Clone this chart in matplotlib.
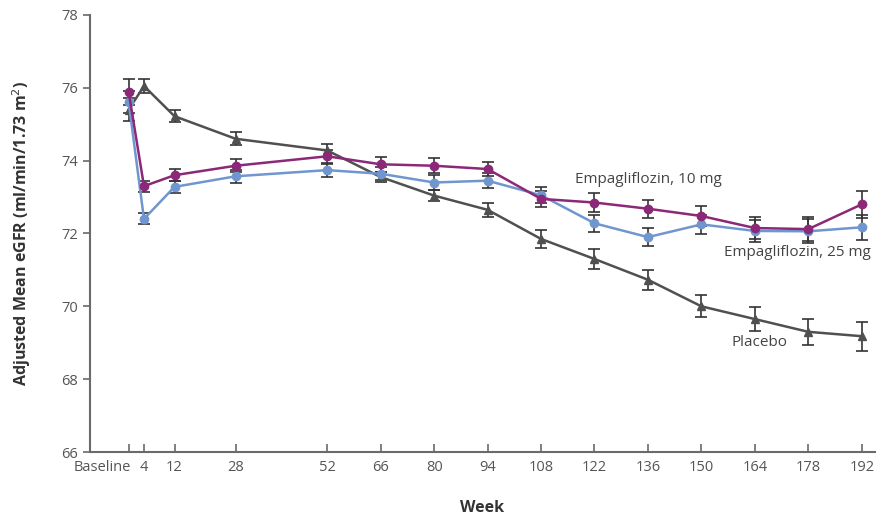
import numpy as np
import matplotlib.pyplot as plt
from matplotlib.transforms import ScaledTranslation

weeks = [0, 4, 12, 28, 52, 66, 80, 94, 108, 122, 136, 150, 164, 178, 192]
tick_labels = ["Baseline", "4", "12", "28", "52", "66", "80", "94", "108",
               "122", "136", "150", "164", "178", "192"]

placebo = [75.4, 76.05, 75.22, 74.6, 74.28, 73.55, 73.04, 72.65, 71.85,
           71.3, 70.73, 70.0, 69.65, 69.3, 69.18]
placebo_err = [0.32, 0.18, 0.16, 0.18, 0.18, 0.14, 0.16, 0.2, 0.25,
               0.28, 0.28, 0.3, 0.34, 0.36, 0.4]

empa10 = [75.88, 73.3, 73.6, 73.86, 74.12, 73.9, 73.86, 73.77, 72.95,
          72.85, 72.68, 72.48, 72.15, 72.12, 72.8]
empa10_err = [0.35, 0.15, 0.16, 0.18, 0.18, 0.2, 0.2, 0.2, 0.22,
              0.25, 0.25, 0.27, 0.3, 0.33, 0.38]

empa25 = [75.6, 72.4, 73.28, 73.57, 73.74, 73.64, 73.4, 73.45, 73.05,
          72.28, 71.9, 72.25, 72.07, 72.06, 72.17]
empa25_err = [0.3, 0.15, 0.16, 0.18, 0.18, 0.18, 0.2, 0.2, 0.22,
              0.24, 0.25, 0.27, 0.3, 0.33, 0.34]

plt.rcParams['font.family'] = ['Open Sans', 'DejaVu Sans']

fig = plt.figure(figsize=(8.8, 5.16), dpi=100)
ax = fig.add_axes([0.102, 0.124, 0.892, 0.847])

series = [
    (placebo, placebo_err, "#505050", "^"),
    (empa25, empa25_err, "#7096cf", "o"),
    (empa10, empa10_err, "#8c2878", "o"),
]
for vals, err, col, mk in series:
    ax.errorbar(weeks, vals, yerr=err, color=col, marker=mk, markersize=6,
                linewidth=1.8, ecolor="#333333", elinewidth=1.2, capsize=4,
                capthick=1.2, zorder=3)

ax.text(117, 73.47, "Empagliflozin, 10 mg", fontsize=11, color="#444444",
        va="center", ha="left")
ax.text(194.5, 71.47, "Empagliflozin, 25 mg", fontsize=11, color="#444444",
        va="center", ha="right")
ax.text(158, 69.02, "Placebo", fontsize=11, color="#444444",
        va="center", ha="left")

ax.set_xlim(-10.2, 195.4)
ax.set_ylim(66, 78)
ax.set_xticks(weeks)
ax.set_xticklabels(tick_labels)
ax.set_yticks(np.arange(66, 79, 2))

for s in ["top", "right"]:
    ax.spines[s].set_visible(False)
for s in ["left", "bottom"]:
    ax.spines[s].set_color("#6a6a6a")
    ax.spines[s].set_linewidth(1.5)

ax.tick_params(axis="x", direction="in", length=6, width=1.2,
               colors="#6a6a6a", labelcolor="#555555", labelsize=10.5, pad=6)
ax.tick_params(axis="y", direction="out", length=5, width=1.2,
               colors="#6a6a6a", labelcolor="#555555", labelsize=10.5)

# baseline label sits left of its tick so it clears the "4"
base_lbl = ax.get_xticklabels()[0]
base_lbl.set_horizontalalignment("right")
base_lbl.set_transform(base_lbl.get_transform() +
                       ScaledTranslation(2 / 72, 0, fig.dpi_scale_trans))

ax.set_xlabel("Week", fontsize=11.5, fontweight="bold", color="#333333",
              labelpad=18)
ax.set_ylabel("Adjusted Mean eGFR (ml/min/1.73 m$^2$)", fontsize=11.5,
              fontweight="bold", color="#333333", labelpad=20)

fig.savefig("out.png", dpi=100)
